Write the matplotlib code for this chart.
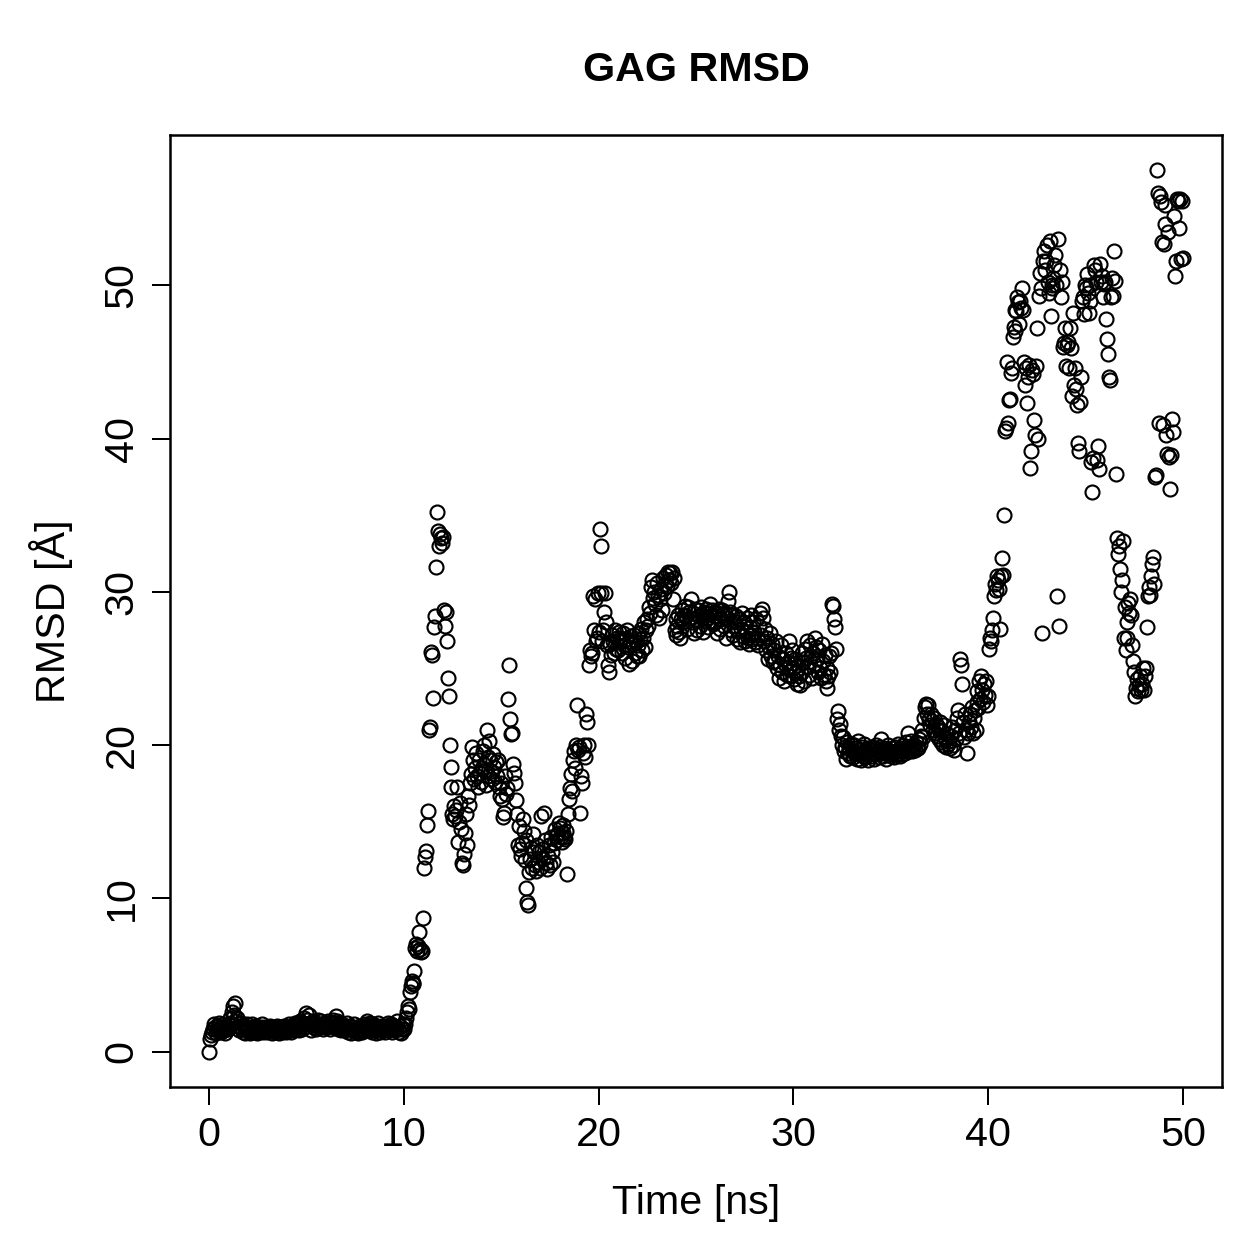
#!/usr/bin/env python3
# GAG RMSD over the trajectory, R base-graphics look

import numpy as np
import matplotlib
matplotlib.use("Agg")
import matplotlib.pyplot as plt

plt.rcParams['font.family'] = ['Liberation Sans', 'DejaVu Sans']

frame_step_ns = 0.05  # one frame every 50 ps

# RMSD [A], 20 frames per ns
rmsd_00_10 = [
    0.0, 0.8, 1.1, 1.3, 1.5, 1.8, 1.6, 1.2, 1.4, 1.7, 1.9, 1.5, 1.3, 1.6, 1.8, 1.4, 1.2, 1.5, 1.7, 1.6,
    1.5, 1.8, 2.2, 1.9, 2.6, 3.0, 2.4, 3.2, 2.0, 2.2, 1.7, 1.4, 1.6, 1.9, 1.5, 1.3, 1.7, 1.2, 1.5, 1.8,
    1.4, 1.6, 1.2, 1.5, 1.8, 1.3, 1.6, 1.4, 1.7, 1.2, 1.5, 1.3, 1.6, 1.4, 1.8, 1.5, 1.3, 1.6, 1.4, 1.5,
    1.3, 1.6, 1.4, 1.7, 1.5, 1.2, 1.4, 1.6, 1.3, 1.5, 1.7, 1.4, 1.2, 1.5, 1.6, 1.3, 1.4, 1.7, 1.5, 1.3,
    1.4, 1.6, 1.8, 1.5, 1.3, 1.7, 1.5, 1.4, 1.9, 1.6, 1.5, 1.8, 1.4, 1.6, 2.0, 1.7, 1.5, 1.9, 2.2, 1.8,
    2.5, 2.1, 1.7, 2.4, 1.9, 1.4, 1.8, 2.0, 1.6, 1.9, 1.5, 1.7, 2.1, 1.8, 1.6, 2.0, 1.7, 1.5, 1.9, 1.6,
    1.8, 1.6, 2.0, 1.7, 1.5, 1.9, 1.8, 2.1, 1.6, 1.9, 2.3, 2.0, 1.7, 1.5, 1.9, 1.6, 1.4, 1.8, 1.5, 1.7,
    1.4, 1.6, 1.9, 1.3, 1.5, 1.7, 1.2, 1.6, 1.4, 1.8, 1.5, 1.3, 1.6, 1.2, 1.5, 1.7, 1.4, 1.3, 1.6, 1.5,
    1.8, 1.5, 2.0, 1.7, 1.4, 1.9, 1.6, 1.3, 1.8, 1.5, 1.7, 1.4, 1.2, 1.6, 1.9, 1.5, 1.3, 1.7, 1.5, 1.4,
    1.6, 1.3, 1.7, 1.5, 1.9, 1.4, 1.6, 1.8, 1.3, 1.5, 1.7, 1.4, 1.6, 2.0, 1.5, 1.3, 1.7, 1.2, 1.5, 1.8,
]
rmsd_10_20 = [
    1.5, 1.8, 2.2, 2.6, 3.0, 2.8, 3.9, 4.3, 4.6, 4.4, 4.5, 5.3, 6.8, 7.0, 6.6, 6.9, 7.8, 6.7, 6.5, 6.6,
    8.7, 12.0, 12.7, 13.1, 14.8, 15.7, 21.0, 21.2, 26.1, 25.9, 23.1, 27.7, 28.4, 31.6, 35.2, 34.0, 33.0, 33.8, 33.5, 33.2,
    33.6, 28.8, 27.8, 28.7, 26.8, 24.4, 23.2, 20.0, 18.6, 17.3, 15.5, 15.2, 16.0, 15.4, 15.8, 17.3, 13.7, 15.0, 16.2, 14.5,
    12.3, 12.2, 12.9, 14.3, 15.5, 13.5, 16.7, 16.1, 17.5, 18.1, 19.9, 19.0, 17.8, 18.5, 19.5, 18.0, 17.3, 19.0, 18.2, 17.6,
    18.5, 19.6, 20.0, 18.4, 17.4, 21.0, 19.2, 18.0, 20.3, 19.0, 18.3, 17.8, 19.4, 18.6, 17.6, 18.9, 18.0, 19.0, 17.3, 16.7,
    17.5, 16.5, 15.3, 15.6, 18.0, 16.8, 17.2, 23.0, 25.2, 21.7, 20.7, 20.8, 18.8, 18.2, 17.5, 16.4, 15.5, 13.5, 14.7, 13.2,
    12.8, 13.6, 15.2, 14.4, 12.5, 13.8, 10.7, 9.8, 9.6, 11.7, 12.6, 13.3, 12.0, 14.2, 13.0, 12.2, 11.8, 13.5, 12.4, 13.0,
    12.0, 15.4, 13.2, 12.6, 15.6, 13.8, 12.3, 11.9, 12.8, 13.5, 12.2, 14.0, 13.0, 12.4, 13.6, 14.5, 14.1, 13.8, 14.3, 14.9,
    14.6, 14.0, 13.7, 14.3, 14.8, 14.0, 13.9, 14.4, 11.6, 15.5, 16.5, 17.2, 18.1, 17.0, 19.0, 19.6, 18.5, 20.0, 22.6, 19.7,
    19.9, 15.6, 18.0, 17.5, 19.5, 20.0, 19.2, 22.0, 21.5, 20.0, 25.2, 26.2, 25.8, 26.0, 29.7, 27.5, 29.5, 26.8, 27.0, 29.9,
]
rmsd_20_30 = [
    27.4, 34.1, 33.0, 29.9, 26.8, 27.5, 28.7, 29.9, 28.0, 26.5, 25.2, 24.8, 26.6, 25.9, 27.2, 26.8, 26.0, 27.5, 26.3, 27.0,
    26.2, 27.4, 26.8, 27.0, 26.0, 27.3, 26.5, 25.7, 26.9, 27.5, 26.4, 25.3, 26.8, 27.1, 25.5, 26.6, 27.2, 26.0, 26.7, 25.8,
    26.5, 27.3, 25.8, 26.9, 27.6, 26.2, 27.0, 28.0, 26.4, 27.5, 28.2, 27.8, 29.0, 28.6, 30.3, 30.8, 29.6, 30.0, 29.2, 28.5,
    30.6, 29.8, 28.3, 29.5, 30.2, 28.8, 30.9, 29.9, 30.5, 31.1, 30.4, 31.3, 30.8, 31.2, 30.6, 31.3, 29.5, 30.9, 27.5, 28.2,
    27.2, 27.8, 28.5, 27.4, 27.0, 28.2, 28.8, 28.0, 28.5, 29.1, 28.4, 27.6, 29.0, 28.7, 28.3, 29.5, 28.0, 28.6, 27.3, 28.9,
    28.2, 27.5, 28.8, 28.4, 27.8, 29.0, 28.5, 27.4, 28.7, 28.1, 28.9, 28.3, 27.7, 28.6, 29.2, 28.0, 28.8, 27.9, 28.4, 28.6,
    28.0, 28.7, 27.3, 28.4, 28.9, 27.6, 28.2, 28.8, 28.5, 27.8, 28.6, 27.0, 28.3, 29.4, 30.0, 28.7, 27.5, 28.5, 27.2, 28.1,
    27.8, 28.4, 26.9, 27.5, 28.2, 26.7, 27.6, 28.6, 27.1, 28.0, 26.8, 27.4, 28.3, 27.0, 26.6, 27.7, 28.5, 27.2, 26.9, 28.0,
    27.4, 26.7, 28.2, 27.0, 26.5, 27.8, 28.6, 27.2, 28.9, 28.3, 26.8, 27.6, 26.2, 27.0, 25.6, 26.4, 27.3, 25.8, 26.6, 25.4,
    26.2, 25.5, 26.8, 25.0, 25.8, 24.4, 25.2, 26.5, 24.8, 25.6, 24.2, 25.3, 26.0, 24.6, 25.4, 26.8, 25.1, 24.5, 25.7, 26.2,
]
rmsd_30_40 = [
    25.0, 24.3, 25.6, 24.8, 24.0, 25.2, 24.5, 23.9, 24.7, 26.0, 25.4, 24.2, 26.3, 25.7, 26.8, 25.1, 24.6, 26.5, 25.8, 24.4,
    26.0, 25.3, 27.0, 26.4, 25.6, 24.8, 26.2, 25.0, 24.4, 26.6, 25.5, 24.6, 25.9, 24.2, 23.7, 25.0, 24.5, 25.8, 24.8, 26.0,
    29.2, 29.1, 28.2, 27.7, 26.3, 21.7, 22.2, 21.0, 21.4, 20.6, 20.0, 20.5, 19.6, 19.9, 19.1, 20.2, 19.5, 19.8, 19.3, 20.1,
    19.6, 19.2, 20.0, 19.5, 19.8, 19.1, 20.3, 19.4, 19.7, 19.0, 19.9, 19.3, 19.6, 20.1, 19.2, 19.5, 19.8, 19.0, 19.4, 19.7,
    19.3, 19.9, 19.5, 19.1, 19.8, 20.0, 19.4, 19.6, 19.2, 19.9, 20.4, 19.5, 19.3, 19.8, 19.6, 19.1, 19.7, 20.0, 19.4, 19.6,
    19.3, 19.8, 19.5, 19.2, 19.9, 19.6, 19.4, 20.1, 19.5, 19.3, 19.8, 19.6, 19.4, 20.0, 19.7, 19.5, 20.2, 19.8, 20.8, 19.6,
    19.9, 20.3, 19.6, 19.8, 20.0, 19.7, 20.2, 19.9, 19.8, 20.4, 20.1, 20.6, 21.0, 20.5, 21.8, 22.5, 22.7, 22.0, 22.6, 21.7,
    21.3, 22.0, 21.6, 21.0, 21.8, 20.8, 21.4, 20.6, 21.2, 21.0, 20.4, 21.5, 20.2, 20.9, 20.0, 21.3, 20.5, 19.9, 20.7, 20.1,
    20.3, 19.8, 20.6, 21.2, 20.0, 19.7, 21.0, 20.4, 21.8, 22.3, 20.8, 25.6, 25.2, 24.0, 21.5, 20.5, 22.0, 21.0, 19.5, 20.8,
    21.5, 22.0, 21.2, 22.5, 20.8, 21.8, 22.3, 21.0, 22.8, 23.5, 22.4, 24.2, 23.0, 24.5, 23.6, 22.8, 24.0, 23.3, 24.2, 22.6,
]
rmsd_40_50 = [
    23.2, 26.3, 27.0, 26.8, 27.5, 28.3, 29.7, 30.5, 30.1, 31.0, 30.8, 30.2, 27.6, 31.0, 32.2, 31.1, 35.0, 40.5, 40.7, 45.0,
    41.0, 42.5, 42.6, 44.3, 44.6, 46.6, 47.3, 48.4, 47.0, 48.3, 49.2, 48.9, 47.5, 49.0, 48.5, 49.8, 48.4, 45.0, 43.5, 44.6,
    42.3, 44.0, 44.8, 38.1, 39.2, 44.5, 44.2, 41.2, 40.2, 44.7, 47.2, 40.0, 49.3, 50.8, 49.8, 27.3, 51.6, 52.2, 51.0, 51.6,
    52.6, 50.2, 49.5, 52.9, 48.0, 50.0, 49.8, 50.5, 51.3, 52.0, 50.0, 29.7, 53.0, 27.8, 51.0, 49.2, 50.2, 46.0, 46.2, 47.2,
    44.7, 46.1, 46.3, 44.6, 47.2, 45.9, 42.8, 48.2, 43.5, 44.6, 43.2, 42.2, 39.7, 39.2, 42.4, 44.0, 49.0, 49.2, 48.1, 50.0,
    49.8, 50.7, 49.5, 48.2, 50.0, 49.0, 38.5, 36.5, 38.7, 51.3, 51.0, 50.2, 38.6, 39.5, 38.0, 51.4, 50.2, 50.6, 49.2, 50.1,
    50.2, 47.8, 46.5, 45.5, 44.0, 43.8, 49.2, 50.5, 49.3, 52.2, 50.3, 37.7, 33.5, 32.5, 33.0, 31.5, 30.0, 30.8, 33.3, 27.0,
    29.0, 26.2, 28.0, 27.0, 29.3, 28.6, 29.5, 28.5, 26.5, 25.5, 24.8, 23.2, 23.7, 24.3, 23.5, 23.9, 24.5, 23.6, 24.0, 25.0,
    23.6, 24.5, 25.0, 27.7, 29.7, 30.3, 29.8, 31.0, 31.8, 32.3, 30.5, 37.5, 37.6, 57.5, 56.0, 41.0, 55.8, 55.4, 52.8, 40.9,
    52.7, 55.2, 54.0, 40.2, 39.0, 53.5, 38.8, 36.7, 38.9, 41.3, 40.4, 54.5, 50.6, 51.6, 55.6, 55.5, 53.7, 55.6, 51.7, 55.5,
    51.8,
]

x_ticks = [0, 10, 20, 30, 40, 50]
y_ticks = [0, 10, 20, 30, 40, 50]


def main():
    rmsd = np.array(rmsd_00_10 + rmsd_10_20 + rmsd_20_30 + rmsd_30_40 + rmsd_40_50)
    time = np.arange(len(rmsd)) * frame_step_ns

    fig = plt.figure(figsize=(1259 / 180, 1259 / 180), dpi=180)
    ax = fig.add_axes([0.135, 0.1366, 0.8356, 0.7562])

    ax.plot(time, rmsd, linestyle='none', marker='o', markersize=5.6,
            markerfacecolor='none', markeredgecolor='black', markeredgewidth=0.85)

    # R style 4% padding around the data
    ax.set_xlim(-2.0, 52.0)
    ax.set_ylim(-2.3, 59.8)

    ax.set_xticks(x_ticks)
    ax.set_yticks(y_ticks)
    ax.set_yticklabels([str(v) for v in y_ticks], rotation=90, va='center')
    ax.tick_params(direction='out', length=7.2, width=0.8, labelsize=16.5, pad=4.5)
    for side in ax.spines.values():
        side.set_linewidth(1.0)

    ax.set_xlabel("Time [ns]", fontsize=16.5, labelpad=12)
    ax.set_ylabel("RMSD [Å]", fontsize=16.5, labelpad=12)
    fig.text(0.553, 1 - 70 / 1259, "GAG RMSD", fontsize=16.5, fontweight='bold',
             ha='center', va='center')

    fig.savefig("out.png", dpi=180)
    plt.close(fig)


if __name__ == "__main__":
    main()
